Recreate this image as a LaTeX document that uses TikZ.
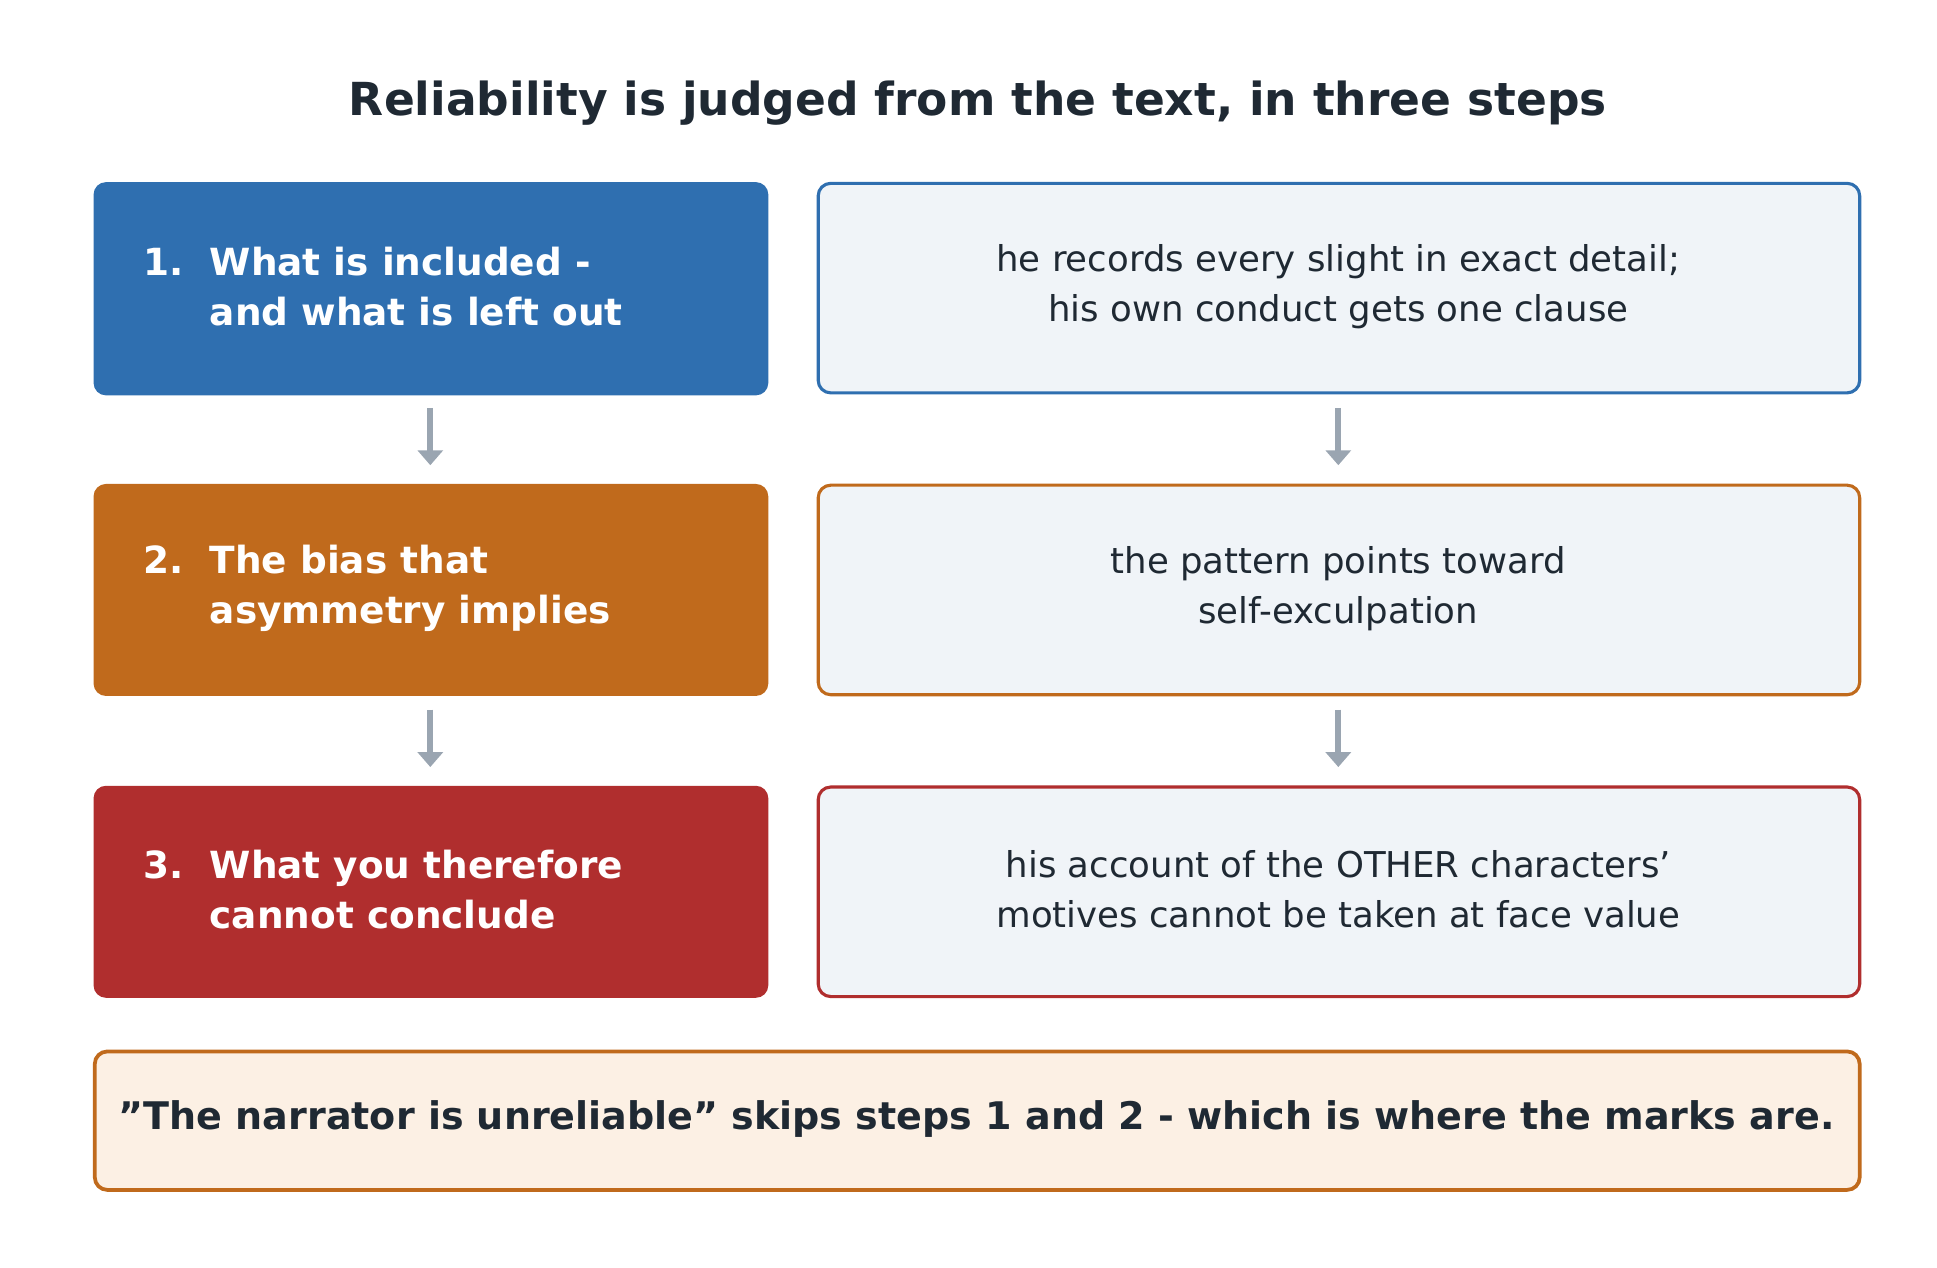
\documentclass[tikz,border=0pt]{standalone}
\usepackage{fontspec}
\setmainfont{DejaVu Sans}
\usetikzlibrary{arrows.meta}
\definecolor{txt}{HTML}{1F2933}
\definecolor{cb}{HTML}{2F6FB0}
\definecolor{co}{HTML}{C06A1C}
\definecolor{cr}{HTML}{B02E2E}
\definecolor{lf}{HTML}{F0F4F8}
\definecolor{bf}{HTML}{FCF0E4}
\definecolor{ar}{HTML}{9AA5B1}
\newcommand{\numl}[1]{\makebox[53pt][l]{#1}}
\newcommand{\indl}{\hspace*{53pt}}
\begin{document}
\begin{tikzpicture}[x=1pt,y=-1pt,
 stepbox/.style={rounded corners=10pt,draw=none},
 note/.style={rounded corners=10pt,line width=2.5pt,fill=lf},
 lt/.style={anchor=west,text=white,font=\fontsize{30}{40}\selectfont\bfseries,align=left,inner sep=0pt},
 rt/.style={text=txt,font=\fontsize{28.5}{40}\selectfont,align=center},
 arr/.style={draw=ar,line width=5pt,-{Triangle[length=12pt,width=20pt]}}]
\useasboundingbox (0,0) rectangle (1553,1016);
\node[text=txt,font=\fontsize{36.5}{40}\selectfont\bfseries] (title) at (784,83) {Reliability is judged from the text, in three steps};
% row 1
\fill[stepbox,cb] (75,146) rectangle (616,317);
\node[lt] (l1) at (115,230) {\numl{1.}What is included -\\\indl and what is left out};
\draw[note,draw=cb] (656,147) rectangle (1491,315);
\node[rt] (r1) at (1073,230) {he records every slight in exact detail;\\his own conduct gets one clause};
% row 2
\fill[stepbox,co] (75,388) rectangle (616,558);
\node[lt] (l2) at (115,472) {\numl{2.}The bias that\\\indl asymmetry implies};
\draw[note,draw=co] (656,389) rectangle (1491,557);
\node[rt] (r2) at (1073,472) {the pattern points toward\\self-exculpation};
% row 3
\fill[stepbox,cr] (75,630) rectangle (616,800);
\node[lt] (l3) at (115,713) {\numl{3.}What you therefore\\\indl cannot conclude};
\draw[note,draw=cr] (656,631) rectangle (1491,799);
\node[rt] (r3) at (1073,713) {his account of the OTHER characters\symbol{39}\\motives cannot be taken at face value};
% arrows
\coordinate (a1) at (345,327); \coordinate (b1) at (345,373);
\coordinate (a2) at (345,569); \coordinate (b2) at (345,615);
\coordinate (a3) at (1073,327); \coordinate (b3) at (1073,373);
\coordinate (a4) at (1073,569); \coordinate (b4) at (1073,615);
\draw[arr] (a1) -- (b1); \draw[arr] (a2) -- (b2);
\draw[arr] (a3) -- (b3); \draw[arr] (a4) -- (b4);
% bottom
\draw[rounded corners=10pt,line width=3pt,draw=co,fill=bf] (76,843) rectangle (1491,954);
\node[text=txt,font=\fontsize{30.5}{34}\selectfont\bfseries] (bot) at (783,897) {\symbol{34}The narrator is unreliable\symbol{34} skips steps 1 and 2 - which is where the marks are.};
\end{tikzpicture}
\end{document}
